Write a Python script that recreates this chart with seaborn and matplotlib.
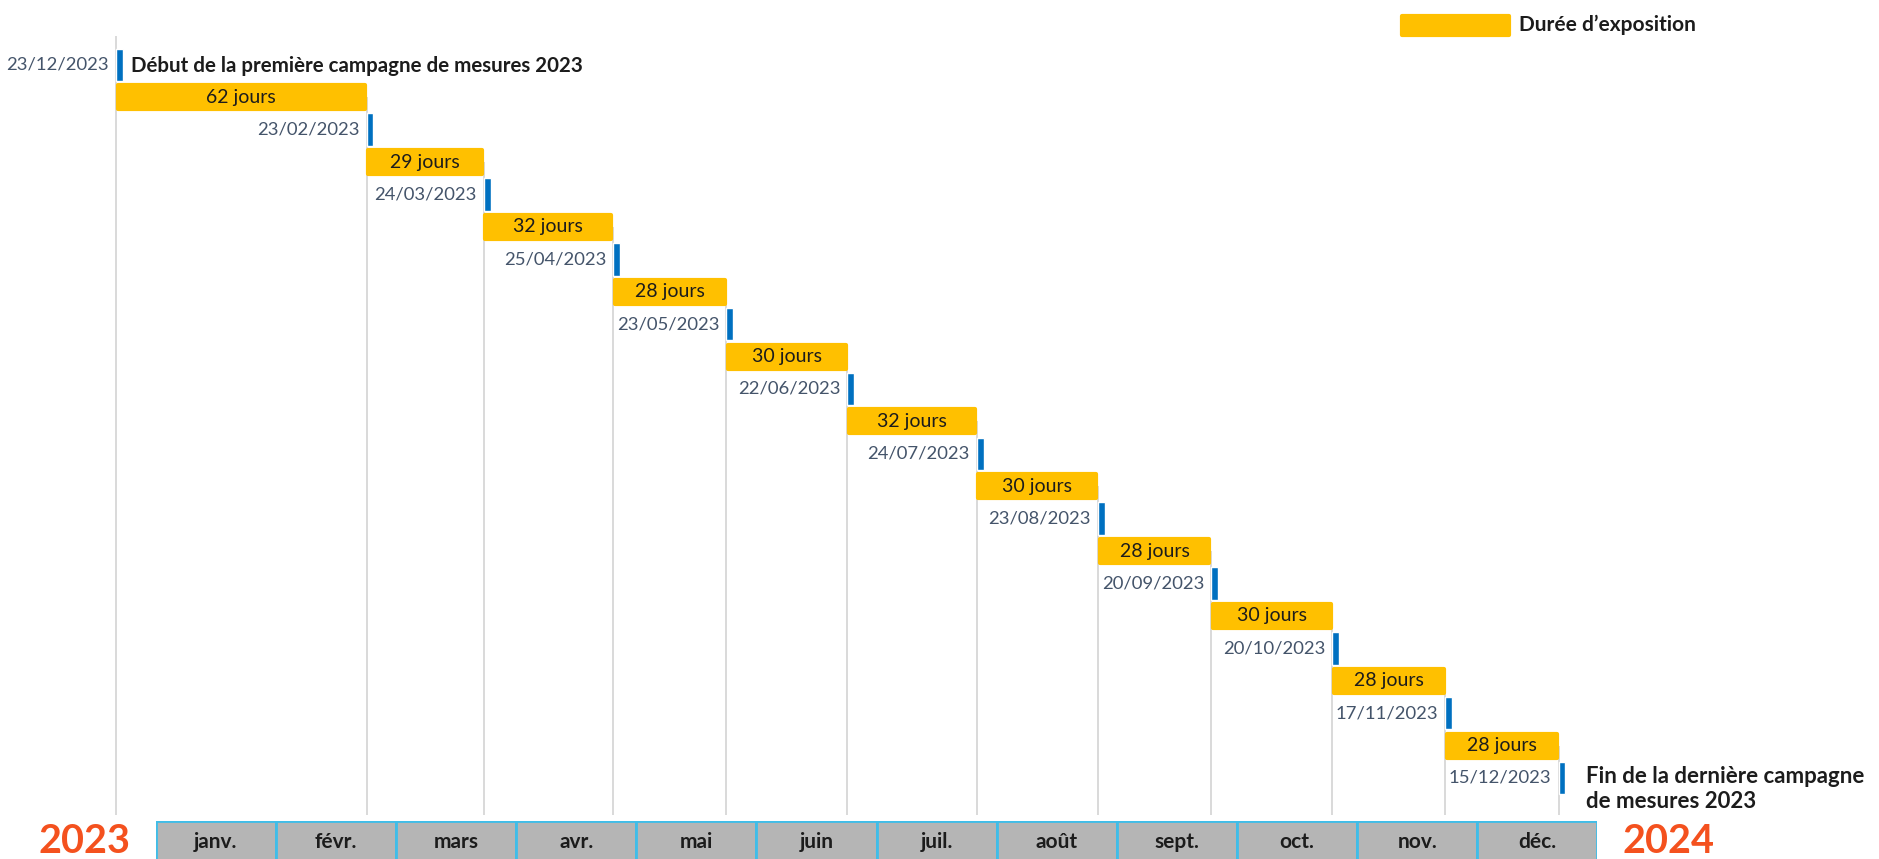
import numpy as np
import pandas as pd
import matplotlib
matplotlib.use("Agg")
import matplotlib.pyplot as plt
import matplotlib.dates as mdates
from matplotlib.patches import Rectangle
import seaborn as sns

# ── Données ──────────────────────────────────────────────────────
DATES = ["2022-12-23", "2023-02-23", "2023-03-24", "2023-04-25",
         "2023-05-23", "2023-06-22", "2023-07-24", "2023-08-23",
         "2023-09-20", "2023-10-20", "2023-11-17", "2023-12-15"]
# libellés tels qu'écrits sur le schéma (coquille sur la première date)
DATE_LABELS = ["23/12/2023", "23/02/2023", "24/03/2023", "25/04/2023",
               "23/05/2023", "22/06/2023", "24/07/2023", "23/08/2023",
               "20/09/2023", "20/10/2023", "17/11/2023", "15/12/2023"]
DUREES = [62, 29, 32, 28, 30, 32, 30, 28, 30, 28, 28]
MOIS = ["janv.", "févr.", "mars", "avr.", "mai", "juin",
        "juil.", "août", "sept.", "oct.", "nov.", "déc."]
ANNEES = ["2023", "2024"]
TXT_DEBUT = "Début de la première campagne de mesures 2023"
TXT_FIN = "Fin de la dernière campagne\nde mesures 2023"
TXT_LEGENDE = "Durée d’exposition"

# ── Styles ───────────────────────────────────────────────────────
JAUNE = "#FFC000"
BLEU = "#0070C0"
TXT_DATE = "#44546A"
TXT_NOIR = "#1C1C1C"
ORANGE = "#F4511E"
GRIS_BANDE = "#B5B5B5"
CYAN = "#40BDE8"
GRIS_LIGNE = "#D0D0D0"

sns.set_theme(style="white")
plt.rcParams["font.family"] = ["Lato", "DejaVu Sans"]

fig = plt.figure(figsize=(18.79, 8.59), dpi=100)
ax = fig.add_axes([0, 0, 1, 1])
ax.set_axis_off()

x = mdates.date2num(pd.to_datetime(DATES))
x_ref = mdates.date2num(pd.Timestamp("2023-01-01"))
rows = np.arange(len(DATES))

ax.set_xlim(x_ref - 37.7, x_ref + 427.3)
ax.set_ylim(12.25, -1.0)

# lignes verticales
for i, xi in enumerate(x):
    top = -0.44 if i == 0 else i - 0.5
    ax.vlines(xi, top, 11.57, color=GRIS_LIGNE, lw=1.1, zorder=1)

# repères bleus (dates de pose / dépose)
ax.bar(x, 0.5, width=1.7, bottom=rows - 0.25, align="edge",
       color=BLEU, zorder=3)

# barres de durée d'exposition
ax.barh(rows[:-1] + 0.5, np.diff(x) - 0.8, left=x[:-1] + 0.4, height=0.37,
        color=JAUNE, edgecolor=JAUNE, linewidth=3, joinstyle="round", zorder=2)

for i, d in enumerate(DUREES):
    ax.text((x[i] + x[i + 1]) / 2, i + 0.5, f"{d} jours", ha="center",
            va="center", fontsize=14, color=TXT_NOIR, zorder=4)

for xi, r, lbl in zip(x, rows, DATE_LABELS):
    ax.annotate(lbl, (xi, r), xytext=(-5, 0), textcoords="offset points",
                ha="right", va="center", fontsize=13.3, color=TXT_DATE)

ax.annotate(TXT_DEBUT, (x[0], rows[0]), xytext=(11, -1),
            textcoords="offset points", ha="left", va="center",
            fontsize=14.8, fontweight="bold", color=TXT_NOIR)
ax.annotate(TXT_FIN, (x[-1], rows[-1]), xytext=(20, -8),
            textcoords="offset points", ha="left", va="center",
            fontsize=16, fontweight="bold", color=TXT_NOIR, linespacing=1.2)

# ── Bande des mois ───────────────────────────────────────────────
axb = fig.add_axes([0.0829, -0.04, 0.7672, 0.0842])
df_mois = pd.DataFrame({"mois": MOIS, "v": [1] * len(MOIS)})
sns.barplot(data=df_mois, x="mois", y="v", color=GRIS_BANDE, saturation=1,
            width=1, edgecolor=CYAN, linewidth=2, ax=axb)
axb.set_xlim(-0.5, len(MOIS) - 0.5)
axb.set_ylim(0, 1)
axb.set_axis_off()
for i, m in enumerate(MOIS):
    axb.text(i, 0.71, m, ha="center", va="center", fontsize=15,
             fontweight="bold", color=TXT_NOIR)

fig.text(85 / 1879, 0.02, ANNEES[0], ha="center", va="center",
         fontsize=28.5, fontweight="bold", color=ORANGE)
fig.text(1669 / 1879, 0.02, ANNEES[1], ha="center", va="center",
         fontsize=28.5, fontweight="bold", color=ORANGE)

# ── Légende ──────────────────────────────────────────────────────
fig.patches.append(Rectangle((1402 / 1879, 1 - 35 / 859), 107 / 1879, 19 / 859,
                             transform=fig.transFigure, facecolor=JAUNE,
                             edgecolor=JAUNE, linewidth=3, joinstyle="round"))
fig.text(1519 / 1879, 1 - 25 / 859, TXT_LEGENDE, ha="left", va="center",
         fontsize=15, fontweight="bold", color=TXT_NOIR)

fig.savefig("out.png", dpi=100, facecolor="white")
